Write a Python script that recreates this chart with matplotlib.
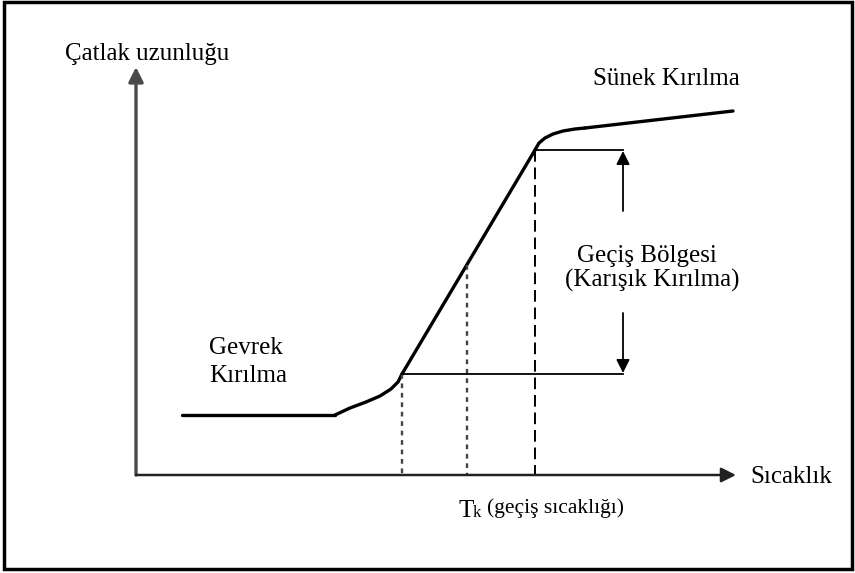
import matplotlib.pyplot as plt
from matplotlib.patches import Rectangle

plt.rcParams['font.family'] = ['Liberation Serif', 'DejaVu Serif']

# crack length vs temperature curve (drawing units, y grows downward)
flat_x = [182, 335]
flat_y = [415, 415]
knee_low_x = [335, 350, 366, 380, 391, 398, 402]
knee_low_y = [415, 408, 402, 396, 389, 382, 374]
ramp_x = [402, 535]
ramp_y = [374, 150]
knee_up_x = [535, 539, 545, 553, 563, 575, 585]
knee_up_y = [150, 143, 138, 134, 131, 129, 128]
upper_x = [585, 733]
upper_y = [128, 111]

# transition markers
T_low, T_mid, T_high = 402, 467, 535
y_low, y_high = 374, 150
y_mid = 265
bracket_x = 623

# axes frame
x0, y0 = 136, 475
x_end, y_end = 736, 67

fig = plt.figure(figsize=(8.55, 5.73), dpi=100)
ax = fig.add_axes([0, 0, 1, 1])
ax.set_xlim(0, 855)
ax.set_ylim(573, 0)
ax.axis('off')

ax.add_patch(Rectangle((4, 2), 848, 567, fill=False, lw=2.5, ec='black'))

# axes with arrows
ax.annotate('', xy=(x0, y_end), xytext=(x0, y0),
            arrowprops=dict(arrowstyle='-|>', color='#4a4a4a', lw=2.4,
                            mutation_scale=22, shrinkA=0, shrinkB=0))
ax.annotate('', xy=(x_end, y0), xytext=(x0, y0),
            arrowprops=dict(arrowstyle='-|>', color='#222222', lw=1.8,
                            mutation_scale=22, shrinkA=0, shrinkB=0))

# the curve
for xs, ys in [(flat_x, flat_y), (knee_low_x, knee_low_y), (ramp_x, ramp_y),
               (knee_up_x, knee_up_y), (upper_x, upper_y)]:
    ax.plot(xs, ys, color='black', lw=2.4, solid_capstyle='round',
            solid_joinstyle='round')

# vertical guide lines
ax.plot([T_low, T_low], [y_low, y0], color='#444444', lw=1.7, ls=(0, (2, 2)))
ax.plot([T_mid, T_mid], [y_mid, y0], color='#444444', lw=1.7, ls=(0, (2, 2)))
ax.plot([T_high, T_high], [y_high, y0], color='black', lw=1.4, ls=(0, (6, 3)))

# horizontal bracket lines
ax.plot([T_low, bracket_x], [y_low, y_low], color='black', lw=1.3)
ax.plot([T_high, bracket_x], [y_high, y_high], color='black', lw=1.3)

# transition range arrows
ax.annotate('', xy=(bracket_x, y_high + 1), xytext=(bracket_x, 211),
            arrowprops=dict(arrowstyle='-|>', color='black', lw=1.3,
                            mutation_scale=20, shrinkA=0, shrinkB=0))
ax.annotate('', xy=(bracket_x, y_low - 1), xytext=(bracket_x, 313),
            arrowprops=dict(arrowstyle='-|>', color='black', lw=1.3,
                            mutation_scale=20, shrinkA=0, shrinkB=0))

fs = 18
ax.text(65, 60, 'Çatlak uzunluğu', fontsize=fs, ha='left', va='baseline')
ax.text(750, 483, 'Sıcaklık', fontsize=fs, ha='left', va='baseline')
ax.text(593, 85, 'Sünek Kırılma', fontsize=fs, ha='left', va='baseline')
ax.text(647, 262, 'Geçiş Bölgesi', fontsize=fs, ha='center', va='baseline')
ax.text(652, 287, '(Karışık Kırılma)', fontsize=fs, ha='center', va='baseline')
ax.text(209, 354, 'Gevrek', fontsize=fs, ha='left', va='baseline')
ax.text(209, 382, 'Kırılma', fontsize=fs, ha='left', va='baseline')
ax.text(458, 517, 'T', fontsize=fs, ha='left', va='baseline')
ax.text(473, 517, 'k', fontsize=12, ha='left', va='baseline')
ax.text(487, 513, '(geçiş sıcaklığı)', fontsize=15.5, ha='left', va='baseline')

fig.savefig('out.png', dpi=100)
